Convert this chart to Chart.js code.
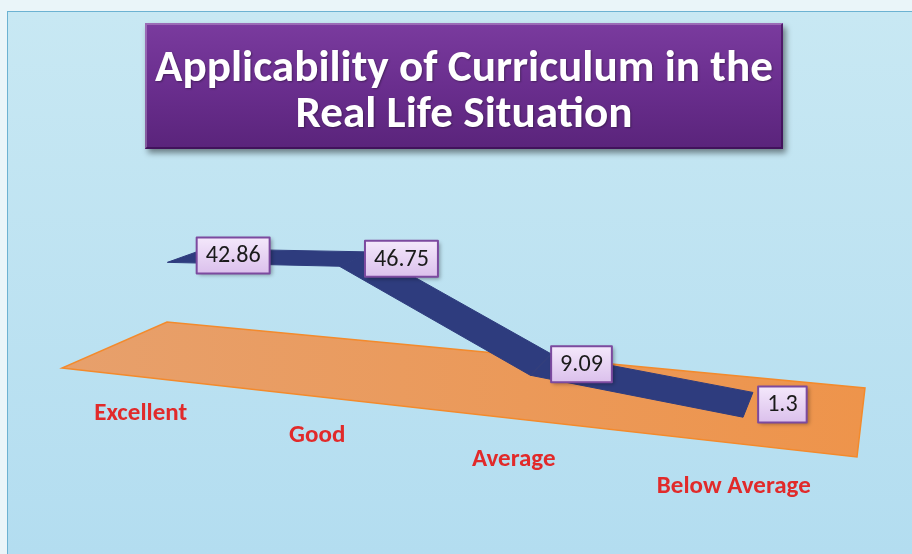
<!DOCTYPE html>
<html>
<head>
<meta charset="utf-8">
<title>Applicability of Curriculum in the Real Life Situation</title>
<script src="https://cdn.jsdelivr.net/npm/chart.js@4/dist/chart.umd.min.js"></script>
<style>
  html, body { margin: 0; padding: 0; background: #eaf5f9; }
  canvas { display: block; }
</style>
</head>
<body>
<canvas id="curriculumChart" width="912" height="554"></canvas>
<script>
/* ---------- data ---------- */
const categories = ["Excellent", "Good", "Average", "Below Average"];
const percentValues = [42.86, 46.75, 9.09, 1.3];
const titleLines = ["Applicability of Curriculum in the", "Real Life Situation"];
const valueMin = -2.5;
const valueMax = 50;

/* ---------- 3D look ---------- */
// floor corners on screen: front-left, front-right, back-right, back-left
const FLOOR_QUAD = [[62, 368], [857, 457], [865, 388], [167, 322]];
const WALL_H = 120;        // height of the value range, in px at unit depth
const RIB_FRONT = 0.22;    // ribbon depth on the floor (0 = front, 1 = back)
const RIB_BACK = 0.6;
const FONT = "Carlito, Lato, 'Open Sans', sans-serif";

// square -> quad homography (Heckbert)
function squareToQuad(q) {
  const [x0, y0] = q[0], [x1, y1] = q[1], [x2, y2] = q[2], [x3, y3] = q[3];
  const dx1 = x1 - x2, dx2 = x3 - x2, dx3 = x0 - x1 + x2 - x3;
  const dy1 = y1 - y2, dy2 = y3 - y2, dy3 = y0 - y1 + y2 - y3;
  const det = dx1 * dy2 - dx2 * dy1;
  const g = (dx3 * dy2 - dx2 * dy3) / det;
  const h = (dx1 * dy3 - dx3 * dy1) / det;
  return {
    a: x1 - x0 + g * x1, b: x3 - x0 + h * x3, c: x0,
    d: y1 - y0 + g * y1, e: y3 - y0 + h * y3, f: y0, g, h
  };
}
const H = squareToQuad(FLOOR_QUAD);

// u along categories, w into depth, lift = height above floor
function project(u, w, lift) {
  const den = H.g * u + H.h * w + 1;
  return {
    x: (H.a * u + H.b * w + H.c) / den,
    y: (H.d * u + H.e * w + H.f) / den - lift / den,
    den
  };
}

function fitFont(ctx, text, width, weight) {
  ctx.font = `${weight} 100px ${FONT}`;
  return 100 * width / ctx.measureText(text).width;
}

// turn a chart point into floor coords
function toFloor(chart, pt) {
  const area = chart.chartArea;
  return {
    u: (pt.x - area.left) / (area.right - area.left),
    lift: (area.bottom - pt.y) / (area.bottom - area.top) * WALL_H
  };
}

/* ---------- background + title ---------- */
const backdrop = {
  id: "backdrop",
  beforeDraw(chart) {
    const ctx = chart.ctx;
    ctx.save();
    ctx.fillStyle = "#eaf5f9";
    ctx.fillRect(0, 0, chart.width, chart.height);
    const bg = ctx.createLinearGradient(0, 11, 0, chart.height);
    bg.addColorStop(0, "#c8e8f3");
    bg.addColorStop(1, "#b3ddf0");
    ctx.fillStyle = bg;
    ctx.fillRect(7.5, 11.5, chart.width, chart.height);
    ctx.strokeStyle = "#6cb2d2";
    ctx.lineWidth = 1;
    ctx.strokeRect(7.5, 11.5, chart.width, chart.height);

    // title box
    const bx = 145, by = 23, bw = 638, bh = 126;
    ctx.shadowColor = "rgba(0,0,0,0.45)";
    ctx.shadowBlur = 6;
    ctx.shadowOffsetX = 3;
    ctx.shadowOffsetY = 4;
    const tg = ctx.createLinearGradient(0, by, 0, by + bh);
    tg.addColorStop(0, "#7a3b9e");
    tg.addColorStop(0.5, "#6a2e8e");
    tg.addColorStop(1, "#5a247b");
    ctx.fillStyle = tg;
    ctx.fillRect(bx, by, bw, bh);
    ctx.shadowColor = "transparent";
    // bevel
    ctx.strokeStyle = "rgba(255,255,255,0.25)";
    ctx.lineWidth = 2;
    ctx.beginPath();
    ctx.moveTo(bx + 1, by + bh - 1); ctx.lineTo(bx + 1, by + 1); ctx.lineTo(bx + bw - 1, by + 1);
    ctx.stroke();
    ctx.strokeStyle = "rgba(40,0,60,0.5)";
    ctx.beginPath();
    ctx.moveTo(bx + bw - 1, by + 1); ctx.lineTo(bx + bw - 1, by + bh - 1); ctx.lineTo(bx + 1, by + bh - 1);
    ctx.stroke();

    const size = fitFont(ctx, titleLines[0], 618, "bold");
    ctx.font = `bold ${size}px ${FONT}`;
    ctx.fillStyle = "#ffffff";
    ctx.textAlign = "center";
    ctx.textBaseline = "alphabetic";
    ctx.shadowColor = "rgba(0,0,0,0.35)";
    ctx.shadowBlur = 2;
    ctx.shadowOffsetX = 1;
    ctx.shadowOffsetY = 1;
    ctx.fillText(titleLines[0], bx + bw / 2, 81);
    ctx.fillText(titleLines[1], bx + bw / 2, 127);
    ctx.restore();
  }
};

/* ---------- floor, ribbon, labels ---------- */
const ribbon3d = {
  id: "ribbon3d",
  beforeDatasetsDraw(chart) {
    const ctx = chart.ctx;
    const xs = chart.scales.x;
    ctx.save();
    // floor
    const c = [project(0, 0, 0), project(1, 0, 0), project(1, 1, 0), project(0, 1, 0)];
    const fg = ctx.createLinearGradient(c[0].x, 0, c[2].x, 0);
    fg.addColorStop(0, "#e7a06c");
    fg.addColorStop(1, "#ee944b");
    ctx.fillStyle = fg;
    ctx.strokeStyle = "#f38a2c";
    ctx.lineWidth = 1.5;
    ctx.beginPath();
    c.forEach((p, i) => i ? ctx.lineTo(p.x, p.y) : ctx.moveTo(p.x, p.y));
    ctx.closePath();
    ctx.fill();
    ctx.stroke();

    // category names along the front of the floor
    const size = fitFont(ctx, categories[3], 154, "bold");
    ctx.font = `bold ${size}px ${FONT}`;
    ctx.fillStyle = "#e12a2a";
    ctx.textAlign = "center";
    ctx.textBaseline = "middle";
    categories.forEach((name, i) => {
      const u = (xs.getPixelForValue(i) - chart.chartArea.left) / chart.chartArea.width;
      const p = project(u, 0, 0);
      ctx.fillText(name, p.x - 3, p.y + 36 / p.den);
    });
    ctx.restore();
  },
  afterDatasetsDraw(chart) {
    const ctx = chart.ctx;
    const pts = chart.getDatasetMeta(0).data.map(el => toFloor(chart, el));
    const front = pts.map(p => project(p.u, RIB_FRONT, p.lift));
    const back = pts.map(p => project(p.u, RIB_BACK, p.lift));
    ctx.save();
    ctx.fillStyle = "#2e3c7e";
    ctx.strokeStyle = "#2e3c7e";
    ctx.lineWidth = 1;
    ctx.lineJoin = "round";
    for (let i = 0; i < pts.length - 1; i++) {
      ctx.beginPath();
      ctx.moveTo(front[i].x, front[i].y);
      ctx.lineTo(front[i + 1].x, front[i + 1].y);
      ctx.lineTo(back[i + 1].x, back[i + 1].y);
      ctx.lineTo(back[i].x, back[i].y);
      ctx.closePath();
      ctx.fill();
      ctx.stroke();
    }

    // value boxes, to the right of each point
    const size = fitFont(ctx, "42.86", 55, "normal");
    ctx.font = `${size}px ${FONT}`;
    ctx.textBaseline = "middle";
    ctx.textAlign = "center";
    percentValues.forEach((v, i) => {
      const mid = project(pts[i].u, (RIB_FRONT + RIB_BACK) / 2, pts[i].lift);
      const text = String(v);
      const w = ctx.measureText(text).width + 18;
      const h = 36;
      const x = mid.x + 10, y = mid.y - h / 2;
      ctx.save();
      ctx.shadowColor = "rgba(0,0,0,0.35)";
      ctx.shadowBlur = 4;
      ctx.shadowOffsetX = 2;
      ctx.shadowOffsetY = 2;
      const g = ctx.createLinearGradient(0, y, 0, y + h);
      g.addColorStop(0, "#f4e8fb");
      g.addColorStop(1, "#dbc0ec");
      ctx.fillStyle = g;
      ctx.fillRect(x, y, w, h);
      ctx.restore();
      ctx.strokeStyle = "#7c4a9f";
      ctx.lineWidth = 2;
      ctx.strokeRect(x, y, w, h);
      ctx.fillStyle = "#1a1a1a";
      ctx.fillText(text, x + w / 2, mid.y + 1);
    });
    ctx.restore();
  }
};

new Chart(document.getElementById("curriculumChart"), {
  type: "line",
  data: {
    labels: categories,
    datasets: [{
      data: percentValues,
      borderWidth: 0,
      pointRadius: 0,
      showLine: false,
      fill: false
    }]
  },
  options: {
    responsive: false,
    animation: false,
    layout: { padding: 0 },
    plugins: { legend: { display: false }, tooltip: { enabled: false } },
    scales: {
      x: { type: "category", offset: true, display: false },
      y: { display: false, min: valueMin, max: valueMax }
    }
  },
  plugins: [backdrop, ribbon3d]
});
</script>
</body>
</html>
